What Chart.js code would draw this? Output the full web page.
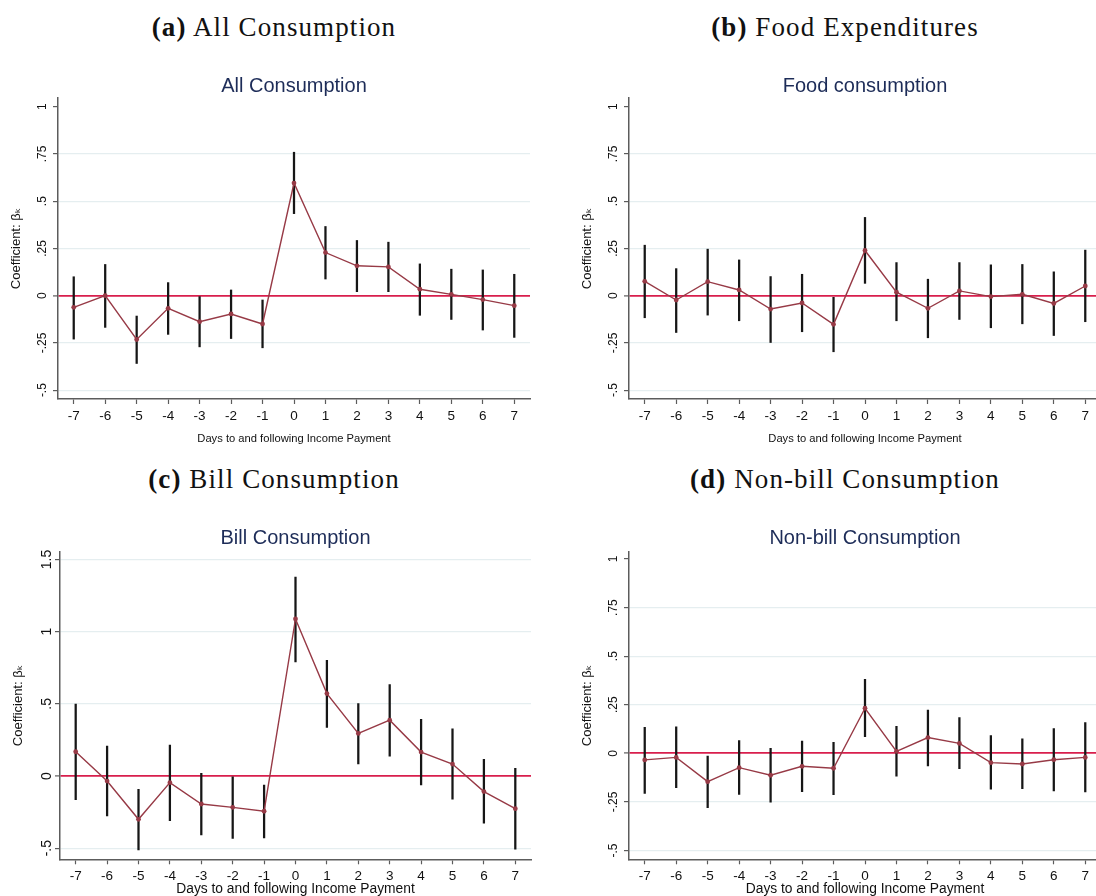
<!DOCTYPE html>
<html>
<head>
<meta charset="utf-8">
<script src="https://cdn.jsdelivr.net/npm/chart.js@4.4.1/dist/chart.umd.min.js"></script>
<style>
  html, body { margin: 0; padding: 0; background: #fff; overflow: hidden; }
  #page { position: relative; width: 1096px; height: 896px; overflow: hidden; }
  .panel { position: absolute; }
  .heading {
    position: absolute; width: 548px; text-align: center;
    font-family: 'Liberation Serif', 'Times New Roman', serif;
    font-size: 27px; letter-spacing: 1.1px; line-height: 30px;
    color: #111; white-space: nowrap;
  }
</style>
</head>
<body>
<div id="page">
  <div class="heading" style="left:0; top:12px"><b>(a)</b> All Consumption</div>
  <div class="heading" style="left:571px; top:12px"><b>(b)</b> Food Expenditures</div>
  <div class="heading" style="left:0; top:464px"><b>(c)</b> Bill Consumption</div>
  <div class="heading" style="left:571px; top:464px"><b>(d)</b> Non-bill Consumption</div>

  <canvas class="panel" id="chartA" width="548" height="400" style="left:0; top:60px"></canvas>
  <canvas class="panel" id="chartB" width="548" height="400" style="left:571px; top:60px"></canvas>
  <canvas class="panel" id="chartC" width="547" height="400" style="left:2px; top:512px"></canvas>
  <canvas class="panel" id="chartD" width="548" height="400" style="left:571px; top:512px"></canvas>
</div>

<script>
// days relative to income payment
const days = ['-7', '-6', '-5', '-4', '-3', '-2', '-1', '0', '1', '2', '3', '4', '5', '6', '7'];

// (a) all consumption
const allCoef = [-0.062, 0.000, -0.232, -0.067, -0.138, -0.097, -0.150, 0.596, 0.228, 0.158, 0.152, 0.034, 0.007, -0.021, -0.053];
const allLow  = [-0.230, -0.168, -0.359, -0.205, -0.271, -0.227, -0.276, 0.434, 0.088, 0.021, 0.021, -0.104, -0.126, -0.182, -0.221];
const allHigh = [0.100, 0.165, -0.108, 0.069, -0.005, 0.030, -0.023, 0.759, 0.366, 0.292, 0.283, 0.168, 0.140, 0.136, 0.113];

// (b) food
const foodCoef = [0.076, -0.023, 0.074, 0.030, -0.071, -0.039, -0.152, 0.239, 0.018, -0.067, 0.025, -0.005, 0.007, -0.041, 0.051];
const foodLow  = [-0.117, -0.195, -0.103, -0.133, -0.248, -0.191, -0.297, 0.065, -0.133, -0.223, -0.126, -0.170, -0.149, -0.211, -0.138];
const foodHigh = [0.267, 0.143, 0.246, 0.189, 0.101, 0.113, -0.009, 0.414, 0.175, 0.087, 0.175, 0.163, 0.165, 0.126, 0.241];

// (c) bills
const billCoef = [0.168, -0.035, -0.300, -0.046, -0.194, -0.217, -0.244, 1.088, 0.571, 0.295, 0.387, 0.166, 0.083, -0.108, -0.226];
const billLow  = [-0.164, -0.276, -0.512, -0.309, -0.408, -0.433, -0.429, 0.790, 0.336, 0.083, 0.138, -0.062, -0.161, -0.327, -0.507];
const billHigh = [0.498, 0.207, -0.092, 0.214, 0.018, 0.000, -0.062, 1.378, 0.802, 0.502, 0.634, 0.392, 0.327, 0.115, 0.053];

// (d) non-bill
const nonbillCoef = [-0.034, -0.021, -0.146, -0.074, -0.113, -0.067, -0.077, 0.232, 0.010, 0.081, 0.051, -0.048, -0.055, -0.033, -0.021];
const nonbillLow  = [-0.206, -0.177, -0.280, -0.211, -0.252, -0.197, -0.213, 0.086, -0.118, -0.065, -0.079, -0.185, -0.182, -0.194, -0.199];
const nonbillHigh = [0.134, 0.136, -0.014, 0.065, 0.026, 0.063, 0.057, 0.381, 0.139, 0.223, 0.184, 0.091, 0.074, 0.127, 0.158];

// y tick values
const quarterTicks = [-0.5, -0.25, 0, 0.25, 0.5, 0.75, 1];
const halfTicks = [-0.5, 0, 0.5, 1, 1.5];

const maroon = '#973a46';
const zeroRed = '#d81e4c';
const axisGray = '#5c5c5c';
const gridLight = '#e5eef0';

Chart.defaults.font.family = "'Liberation Sans', Arial, 'DejaVu Sans', sans-serif";
Chart.defaults.color = '#111';

// stata style labels: .25, -.5, 1.5
function stataLabel(v) {
    if (v === 0) return '0';
    return String(v).replace('0.', '.');
}

function makePanel(id, title, coef, low, high, ticks, o) {
    const ctx = document.getElementById(id).getContext('2d');
    return new Chart(ctx, {
        type: 'bar',
        data: {
            labels: days,
            datasets: [
                {
                    type: 'line',
                    data: coef,
                    borderColor: maroon,
                    backgroundColor: maroon,
                    borderWidth: 1.4,
                    pointRadius: 2.4,
                    pointBorderWidth: 0,
                    pointBackgroundColor: maroon,
                    tension: 0,
                    order: 0
                },
                {
                    type: 'bar',
                    data: low.map((l, i) => [l, high[i]]),
                    backgroundColor: '#161616',
                    borderWidth: 0,
                    barThickness: 1.6,
                    order: 1
                }
            ]
        },
        options: {
            responsive: false,
            animation: false,
            layout: { padding: { left: 0, right: 18, top: 0, bottom: 0 } },
            plugins: {
                legend: { display: false },
                tooltip: { enabled: false },
                title: {
                    display: true,
                    text: title,
                    fullSize: false,
                    color: '#1d2c58',
                    font: { size: 20, weight: 'normal' },
                    padding: { top: 14, bottom: o.titlePadBottom }
                }
            },
            scales: {
                x: {
                    offset: true,
                    afterFit: s => { s.height = o.xHeight; },
                    border: { color: axisGray, width: 1.5 },
                    grid: { drawOnChartArea: false, offset: false, tickLength: 5, tickColor: axisGray, tickWidth: 1.2 },
                    ticks: { font: { size: 13.5 }, padding: 4, maxRotation: 0, autoSkip: false },
                    title: {
                        display: true,
                        text: 'Days to and following Income Payment',
                        font: { size: o.xTitleSize },
                        padding: { top: 0, bottom: o.xTitlePad }
                    }
                },
                y: {
                    min: o.yMin,
                    max: o.yMax,
                    afterBuildTicks: s => { s.ticks = ticks.map(v => ({ value: v })); },
                    afterFit: s => { s.width = 58; },
                    border: { color: axisGray, width: 1.5 },
                    grid: {
                        color: c => {
                            if (c.tick.value === 0) return zeroRed;
                            if (c.tick.value === o.gridSkip) return 'rgba(0,0,0,0)';
                            return gridLight;
                        },
                        lineWidth: c => c.tick.value === 0 ? 1.8 : 1.2,
                        tickLength: 5,
                        tickColor: axisGray,
                        tickWidth: 1.2
                    },
                    ticks: {
                        minRotation: 90,
                        maxRotation: 90,
                        crossAlign: 'center',
                        padding: o.yTickPad,
                        font: { size: o.yTickSize },
                        callback: v => stataLabel(v)
                    },
                    title: {
                        display: true,
                        text: 'Coefficient: \u03b2\u2096',
                        font: { size: 13 },
                        padding: { top: 9, bottom: 0 }
                    }
                }
            }
        }
    });
}

makePanel('chartA', 'All Consumption', allCoef, allLow, allHigh, quarterTicks,
    { yMin: -0.547, yMax: 1.046, yTickSize: 12, yTickPad: 0, xHeight: 61, xTitleSize: 11.2, xTitlePad: 14.3, titlePadBottom: 0, gridSkip: 1 });
makePanel('chartB', 'Food consumption', foodCoef, foodLow, foodHigh, quarterTicks,
    { yMin: -0.547, yMax: 1.046, yTickSize: 12, yTickPad: 0, xHeight: 61, xTitleSize: 11.2, xTitlePad: 14.3, titlePadBottom: 0, gridSkip: 1 });
makePanel('chartC', 'Bill Consumption', billCoef, billLow, billHigh, halfTicks,
    { yMin: -0.577, yMax: 1.554, yTickSize: 14, yTickPad: -2, xHeight: 52.7, xTitleSize: 13.8, xTitlePad: 14.2, titlePadBottom: 1.7, gridSkip: null });
makePanel('chartD', 'Non-bill Consumption', nonbillCoef, nonbillLow, nonbillHigh, quarterTicks,
    { yMin: -0.5455, yMax: 1.0375, yTickSize: 12, yTickPad: 0, xHeight: 52.7, xTitleSize: 13.8, xTitlePad: 14.2, titlePadBottom: 1.7, gridSkip: 1 });
</script>
</body>
</html>
